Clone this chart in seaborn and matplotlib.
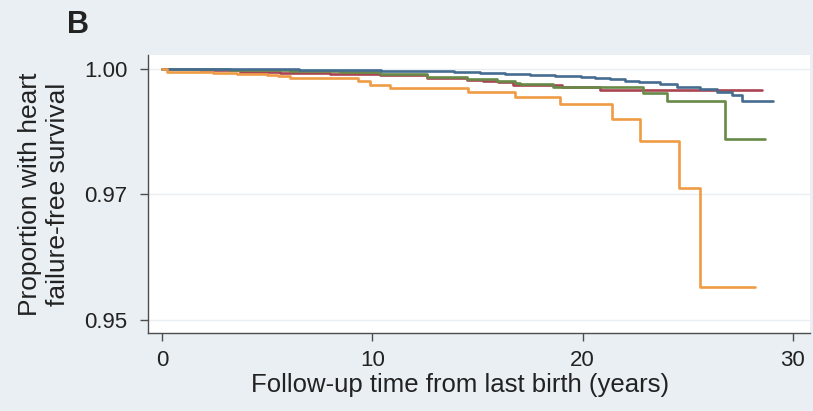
import matplotlib
matplotlib.use("Agg")
import matplotlib.pyplot as plt
import pandas as pd
import seaborn as sns

# Kaplan-Meier step points (time in years, survival)
BLUE_T = [0, 2.5, 4.7, 6.5, 8.5, 10.4, 11.5, 12.7, 13.9, 15.1, 16.3, 17.5,
          18.7, 19.9, 20.6, 21.3, 22.0, 22.7, 23.7, 24.5, 25.6, 26.4, 27.1,
          27.6, 29.05]
BLUE_S = [1.0, 0.99997, 0.99994, 0.99988, 0.99980, 0.9997, 0.99965, 0.9996,
          0.99945, 0.9993, 0.9991, 0.9989, 0.99865, 0.9984, 0.9982, 0.9980,
          0.9977, 0.9974, 0.9970, 0.99634, 0.99594, 0.99534, 0.99481,
          0.99367, 0.99367]

RED_T = [0, 1.81, 3.71, 5.61, 7.99, 10.37, 12.60, 14.50, 15.26, 15.98,
         16.69, 19.02, 20.83, 28.53]
RED_S = [1.0, 0.9998, 0.9995, 0.9992, 0.9990, 0.9988, 0.9982, 0.9979,
         0.99766, 0.99734, 0.9969, 0.9964, 0.9958, 0.9958]

GREEN_T = [0, 3.23, 6.09, 8.46, 10.37, 12.60, 14.50, 15.93, 16.79, 17.02,
           18.59, 22.87, 24.01, 26.77, 28.67]
GREEN_S = [1.0, 0.99984, 0.99964, 0.9994, 0.9991, 0.9985, 0.9980, 0.9977,
           0.9972, 0.9970, 0.9965, 0.9952, 0.9936, 0.9860, 0.9860]

ORANGE_T = [0, 0.24, 2.43, 3.57, 4.99, 5.52, 6.09, 9.32, 9.89, 10.84, 14.55,
            16.79, 18.93, 21.40, 22.73, 24.58, 25.58, 28.20]
ORANGE_S = [1.0, 0.99946, 0.9993, 0.9991, 0.9988, 0.9986, 0.99814, 0.9976,
            0.9968, 0.9962, 0.99541, 0.99441, 0.99301, 0.99001, 0.98562,
            0.97623, 0.95665, 0.95665]

GROUPS = ["Group 2", "Group 3", "Group 1", "Group 4"]
COLORS = {"Group 1": "#456c91", "Group 2": "#a94452",
          "Group 3": "#678a48", "Group 4": "#ef9c45"}

Y_TICKS = [0.95, 0.975, 1.0]
Y_TICKLABELS = ["0.95", "0.97", "1.00"]
X_TICKS = [0, 10, 20, 30]

BG = "#e9eff3"

sns.set_theme(style="white")
plt.rcParams["font.family"] = ["Liberation Sans", "DejaVu Sans"]

series = {"Group 1": (BLUE_T, BLUE_S), "Group 2": (RED_T, RED_S),
          "Group 3": (GREEN_T, GREEN_S), "Group 4": (ORANGE_T, ORANGE_S)}
df = pd.concat([pd.DataFrame({"time": t, "surv": s, "group": g})
                for g, (t, s) in series.items()], ignore_index=True)

fig = plt.figure(figsize=(8.13, 4.11), dpi=100, facecolor=BG)
ax = fig.add_axes([0.182, 0.190, 0.8143, 0.676])
ax.set_facecolor("white")

sns.lineplot(data=df, x="time", y="surv", hue="group", hue_order=GROUPS,
             palette=COLORS, estimator=None, drawstyle="steps-post",
             linewidth=1.9, legend=False, ax=ax)

# Aesthetics
ax.set_xlim(-0.67, 30.81)
ax.set_ylim(0.9474, 1.0028)
ax.set_xticks(X_TICKS)
ax.set_yticks(Y_TICKS)
ax.set_yticklabels(Y_TICKLABELS)
ax.yaxis.grid(True, color="#e9eff3", linewidth=1.0)
ax.set_axisbelow(True)
for side in ("top", "right"):
    ax.spines[side].set_visible(False)
for side in ("left", "bottom"):
    ax.spines[side].set_color("#4d4d4d")
    ax.spines[side].set_linewidth(1.0)
ax.tick_params(axis="both", which="major", direction="out", length=6,
               width=1.0, color="#4d4d4d", labelsize=16, labelcolor="#222222",
               bottom=True, left=True)
ax.tick_params(axis="y", pad=9)
ax.tick_params(axis="x", pad=6)
ax.set_xlabel("Follow-up time from last birth (years)", fontsize=18.5,
              color="#222222", labelpad=4)
ax.xaxis.set_label_coords(0.471, -0.146)
ax.set_ylabel("Proportion with heart\nfailure-free survival", fontsize=19,
              color="#222222", labelpad=10, linespacing=1.2)

fig.text(0.083, 0.92, "B", fontsize=22, fontweight="bold", color="#222222")

plt.savefig("out.png", dpi=100, facecolor=BG)
plt.close(fig)
